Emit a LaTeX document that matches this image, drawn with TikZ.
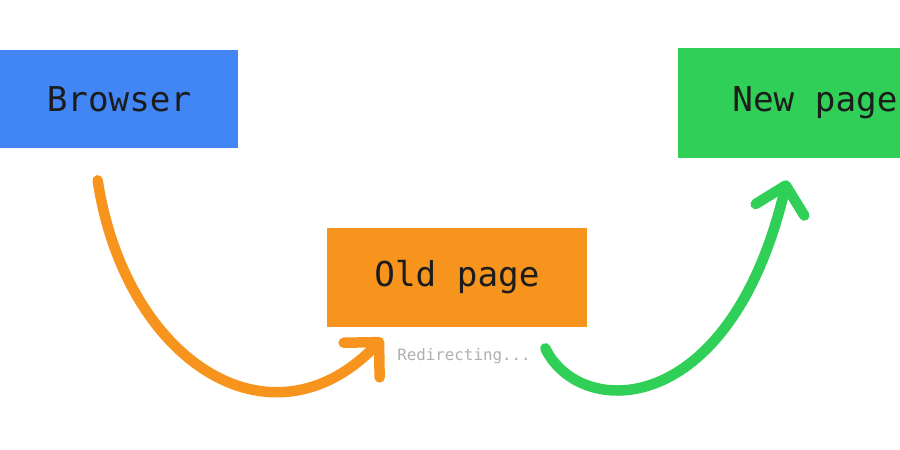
\documentclass[tikz,border=0pt]{standalone}
\usepackage{fontspec}
\setmonofont{DejaVu Sans Mono}
\usepackage{xcolor}
\usepackage{tikz}
\usetikzlibrary{arrows.meta,positioning,calc}
\definecolor{browserblue}{RGB}{66,133,244}
\definecolor{oldorange}{RGB}{247,148,30}
\definecolor{newgreen}{RGB}{48,208,88}
\definecolor{labelgray}{RGB}{175,175,175}
\definecolor{textdark}{RGB}{28,28,28}

\begin{document}
\begin{tikzpicture}[
        x=0.02cm, y=-0.02cm,
        font=\ttfamily\fontsize{19.5pt}{24pt}\selectfont,
        page/.style={rectangle, fill=#1, text=textdark, inner sep=0pt, align=center},
        scribble/.style={draw=#1, line width=0.21cm, line cap=round, line join=round,
            -{Straight Barb[length=0.5cm, width=1.0cm, round]}}
    ]
        \clip (0,0) rectangle (900,450);

        \node[page=browserblue, minimum width=4.76cm, minimum height=1.96cm] (browser) at (119,99) {Browser};
        \node[page=oldorange, minimum width=5.2cm, minimum height=1.98cm] (oldpage) at (457,277.5) {Old page};
        \node[page=newgreen, minimum width=5.48cm, minimum height=2.2cm] (newpage) at (815,103) {New page};

        \node[below=0.58cm of oldpage.south, anchor=center, xshift=0.14cm, text=labelgray,
            font=\ttfamily\fontsize{9pt}{11pt}\selectfont] (redirect) {Redirecting...};

        % hand drawn connectors
        \coordinate (orangestart) at ($(browser.south west)+(98,32)$);
        \coordinate (orangeend) at ($(oldpage.south west)+(56,11)$);
        \coordinate (greenstart) at ($(oldpage.south east)+(-42,21)$);
        \coordinate (greenend) at ($(newpage.south)+(-28,22)$);

        \draw[scribble=oldorange] (orangestart) .. controls (125,360) and (270,455) .. (orangeend);
        \draw[scribble=newgreen] (greenstart) .. controls (580,420) and (730,420) .. (greenend);
    \end{tikzpicture}
\end{document}
